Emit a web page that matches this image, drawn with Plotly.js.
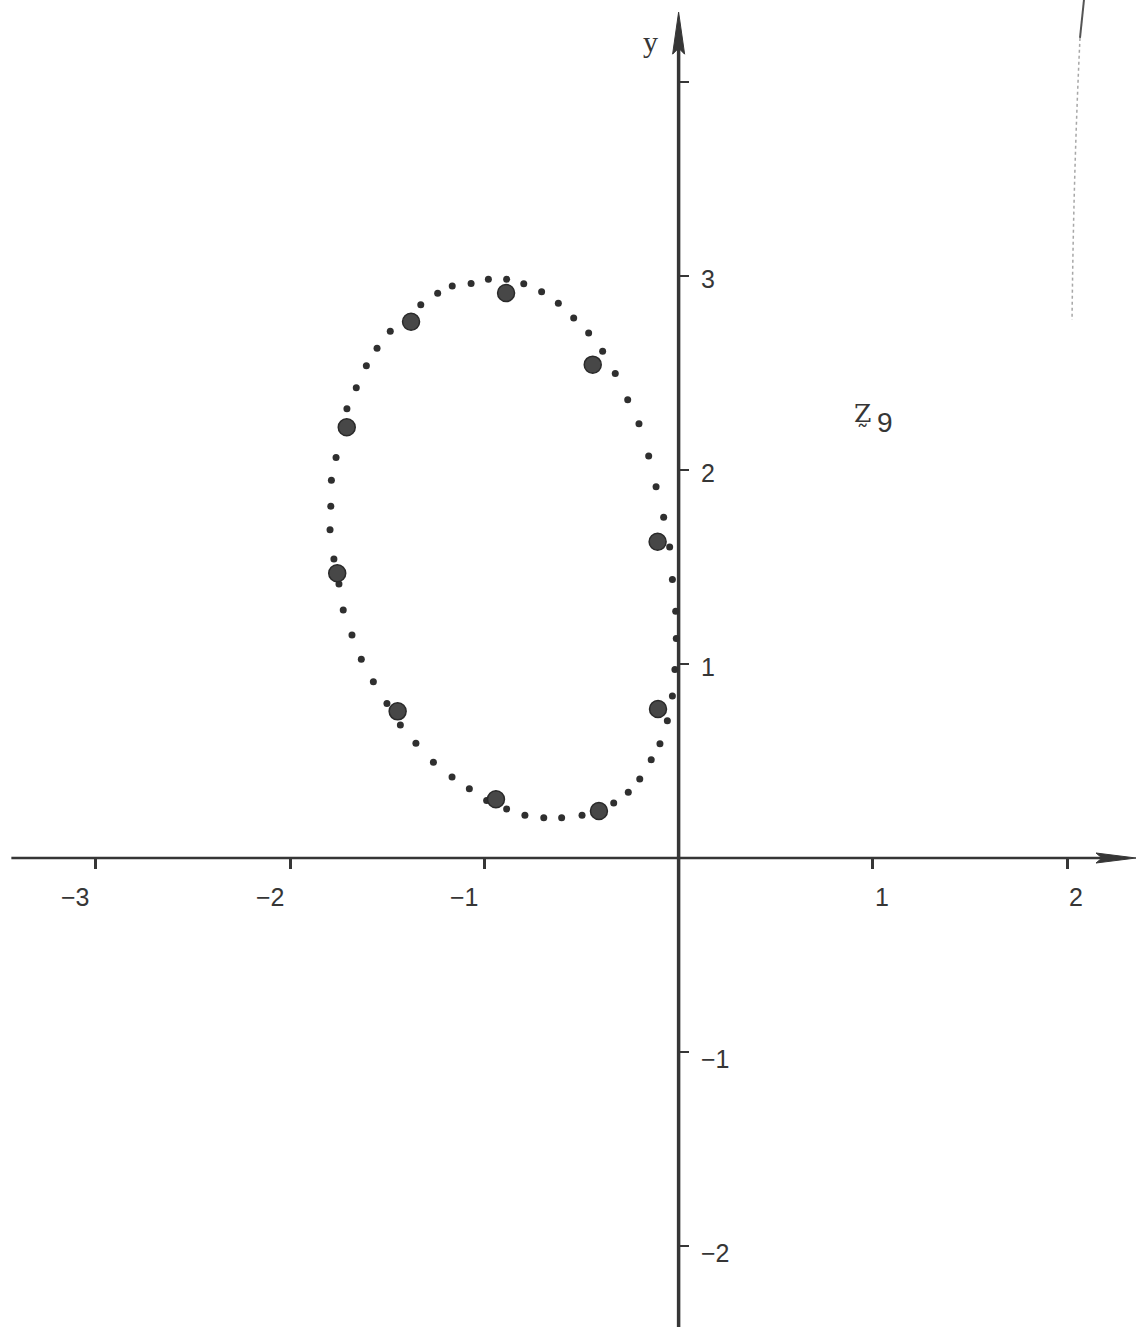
<!DOCTYPE html>
<html>
<head>
<meta charset="utf-8">
<script src="https://cdn.plot.ly/plotly-3.0.1.min.js"></script>
<style>html,body{margin:0;padding:0;background:#fff;}#chart{width:1136px;height:1327px;}</style>
</head>
<body>
<div id="chart"></div>
<script>
// ---- data ----
const xTickVals = [-3, -2, -1, 1, 2];
const xTickText = ['−3', '−2', '−1', '1', '2'];
const yTickVals = [-2, -1, 1, 2, 3, 4];
const yLabelVals = [-2, -1, 1, 2, 3];
const yLabelText = ['−2', '−1', '1', '2', '3'];

// small dots of the dotted closed curve
const smallX = [-0.885,-0.797,-0.705,-0.619,-0.540,-0.463,-0.391,-0.326,-0.262,-0.204,
  -0.154,-0.116,-0.077,-0.046,-0.032,-0.015,-0.012,-0.019,-0.032,-0.058,
  -0.096,-0.141,-0.200,-0.259,-0.334,-0.497,-0.602,-0.694,-0.791,-0.885,
  -0.988,-1.077,-1.166,-1.262,-1.352,-1.432,-1.501,-1.571,-1.633,-1.681,
  -1.726,-1.748,-1.774,-1.794,-1.790,-1.787,-1.763,-1.707,-1.659,-1.607,
  -1.552,-1.484,-1.327,-1.240,-1.165,-1.068,-0.979];
const smallY = [2.983,2.960,2.919,2.859,2.784,2.706,2.612,2.498,2.362,2.239,
  2.072,1.914,1.756,1.603,1.435,1.272,1.132,0.972,0.835,0.708,
  0.589,0.507,0.407,0.339,0.284,0.220,0.208,0.208,0.220,0.253,
  0.297,0.357,0.418,0.493,0.591,0.686,0.797,0.909,1.024,1.149,
  1.278,1.412,1.541,1.692,1.813,1.947,2.065,2.316,2.424,2.538,
  2.627,2.715,2.852,2.911,2.948,2.962,2.983];

// large dots
const bigX = [-0.888,-1.377,-0.442,-1.708,-0.108,-1.757,-1.446,-0.106,-0.940,-0.410];
const bigY = [2.912,2.764,2.543,2.220,1.630,1.468,0.756,0.768,0.303,0.242];

const curveLabel = 'Z\u0330';
const curveIndex = '9';
const yAxisLabel = 'y';

// ---- layout helpers ----
const W = 1136, H = 1327;
const xRange = [-3.4925, 2.354];
const yRange = [-2.4175, 4.4227];
const x0frac = (0 - xRange[0]) / (xRange[1] - xRange[0]);
const y0frac = (0 - yRange[0]) / (yRange[1] - yRange[0]);
const ink = '#363636';

const traces = [
  {x: smallX, y: smallY, type: 'scatter', mode: 'markers', cliponaxis: false,
   marker: {size: 7, color: '#2f2f2f'}, hoverinfo: 'skip', showlegend: false},
  {x: bigX, y: bigY, type: 'scatter', mode: 'markers', cliponaxis: false,
   marker: {size: 17, color: '#474747', line: {color: '#2a2a2a', width: 1.5}},
   hoverinfo: 'skip', showlegend: false}
];

const labelFont = {family: 'Liberation Sans, Arial, sans-serif', size: 25, color: ink};
const annotations = [];
xTickVals.forEach((v, i) => {
  annotations.push({x: v, y: 0, xref: 'x', yref: 'y', text: xTickText[i], showarrow: false,
    xanchor: 'center', yanchor: 'middle', xshift: v < 0 ? -20 : 9, yshift: -39,
    font: labelFont});
});
yLabelVals.forEach((v, i) => {
  annotations.push({x: 0, y: v, xref: 'x', yref: 'y', text: yLabelText[i], showarrow: false,
    xanchor: 'left', yanchor: 'middle', xshift: 20, yshift: v < 0 ? -7 : -3,
    font: labelFont});
});
annotations.push({x: -0.147, y: 4.211, xref: 'x', yref: 'y', text: yAxisLabel, showarrow: false,
  xanchor: 'center', yanchor: 'middle',
  font: {family: 'Liberation Serif, Times New Roman, serif', size: 30, color: ink}});
annotations.push({x: 0.946, y: 2.29, xref: 'x', yref: 'y', text: curveLabel, showarrow: false,
  xanchor: 'center', yanchor: 'middle',
  font: {family: 'DejaVu Serif, Liberation Serif, serif', size: 25, color: ink}});
annotations.push({x: 1.06, y: 2.247, xref: 'x', yref: 'y', text: curveIndex, showarrow: false,
  xanchor: 'center', yanchor: 'middle',
  font: {family: 'Liberation Sans, Arial, sans-serif', size: 28, color: ink}});

const yTip = 4.36;
const shapes = [
  // x axis line
  {type: 'line', xref: 'paper', yref: 'y', x0: 0.010, x1: 0.975, y0: 0, y1: 0,
   line: {color: ink, width: 2.5}, layer: 'below'},
  // y axis line
  {type: 'line', xref: 'x', yref: 'paper', x0: 0, x1: 0, y0: 0, y1: 0.975,
   line: {color: ink, width: 3.5}, layer: 'below'},
  // arrow heads
  {type: 'path', xref: 'x', yref: 'y', xsizemode: 'pixel', ysizemode: 'pixel',
   xanchor: xRange[1], yanchor: 0, path: 'M0,0 L-40,5 L-34,0 L-40,-5 Z',
   fillcolor: ink, line: {color: ink, width: 1}},
  {type: 'path', xref: 'x', yref: 'y', xsizemode: 'pixel', ysizemode: 'pixel',
   xanchor: 0, yanchor: yTip, path: 'M0,0 L-6,-42 L0,-36 L6,-42 Z',
   fillcolor: ink, line: {color: ink, width: 1}},
  // scanned page edge at right
  {type: 'path', xref: 'paper', yref: 'paper',
   path: 'M0.9542,1.0 L0.9507,0.9714', line: {color: '#555', width: 2}},
  {type: 'path', xref: 'paper', yref: 'paper',
   path: 'M0.9507,0.9714 Q0.9450,0.87 0.9437,0.7589', line: {color: 'rgba(80,80,80,0.5)', width: 1.5, dash: 'dot'}}
];

const layout = {
  width: W, height: H,
  margin: {l: 0, r: 0, t: 0, b: 0, pad: 0},
  paper_bgcolor: '#ffffff', plot_bgcolor: '#ffffff',
  showlegend: false,
  xaxis: {range: xRange, showgrid: false, zeroline: false, showline: false,
    tickmode: 'array', tickvals: xTickVals, showticklabels: false,
    ticks: 'outside', ticklen: 10, tickwidth: 3, tickcolor: ink,
    anchor: 'free', position: y0frac, fixedrange: true},
  yaxis: {range: yRange, showgrid: false, zeroline: false, showline: false,
    tickmode: 'array', tickvals: yTickVals, showticklabels: false,
    ticks: 'inside', ticklen: 9, tickwidth: 2.5, tickcolor: ink,
    anchor: 'free', position: x0frac, fixedrange: true},
  annotations: annotations,
  shapes: shapes
};

Plotly.newPlot('chart', traces, layout, {staticPlot: true, displayModeBar: false});
</script>
</body>
</html>
